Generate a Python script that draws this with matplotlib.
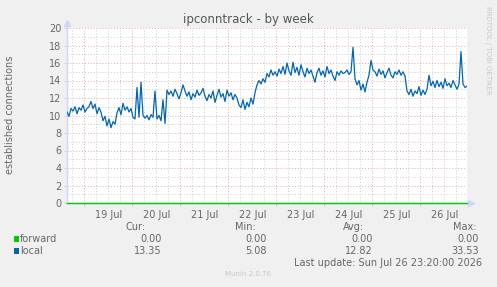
import matplotlib
matplotlib.use("Agg")
import matplotlib.pyplot as plt
import matplotlib.dates as mdates
import numpy as np
import pandas as pd

# ---- data ----
start_time = "2026-07-18 15:20"
end_time = "2026-07-26 23:20"
local_values = [
    10.4, 9.9, 10.8, 10.5, 11.0, 10.2, 10.9, 10.6, 11.2, 10.4, 10.8, 11.0, 11.6,
    10.8, 11.3, 10.2, 10.9, 10.4,
    9.4, 9.9, 8.8, 9.6, 8.6, 9.3, 9.0,
    10.3, 10.9, 10.1, 11.4, 10.6, 11.0, 10.4, 10.8,
    9.8, 9.6, 13.2, 9.8, 13.8, 10.0,
    9.7, 10.0, 9.5, 10.1, 9.8,
    12.8,
    9.6, 10.0, 9.4,
    11.8,
    9.1,
    12.9,
    12.4, 12.8, 12.2, 13.0, 12.5, 11.9, 12.6, 13.5, 12.8, 12.2, 12.7, 11.8, 12.5, 12.1, 12.9, 12.3,
    12.6, 13.1, 12.2, 11.7, 12.4, 12.0, 12.8, 11.5, 12.3, 13.0, 12.1, 12.5, 11.6, 12.9, 12.2, 12.6, 11.8, 12.4, 12.0,
    11.2, 10.9, 11.8, 10.7, 11.5, 11.0, 12.0, 11.3, 12.6, 13.5,
    14.0, 13.6, 14.2, 13.8,
    14.8, 14.4, 15.2, 14.6, 15.0, 14.5, 15.3, 14.8, 15.6, 14.7, 16.0, 15.1, 14.6,
    16.1, 14.9, 15.5, 14.6, 15.8, 15.0, 14.4, 15.4, 14.8, 15.2, 14.5, 13.8, 14.9,
    15.4, 14.6, 15.1, 14.4, 15.6, 14.8, 15.2, 14.5, 14.0, 15.0, 14.6, 15.1, 14.8,
    14.9, 15.2, 14.7, 15.0, 17.8,
    14.2, 13.5, 14.0, 12.9, 13.6, 12.7, 13.8,
    14.6, 16.3, 15.2,
    15.0, 14.5, 15.3, 14.7, 15.1, 14.3, 14.9, 15.4, 14.6, 14.3, 15.0, 14.7,
    15.2, 14.6, 15.0, 14.5, 12.8,
    12.4, 13.0, 12.2, 12.8, 12.5, 13.3, 12.3, 12.9, 12.4, 13.0,
    14.6, 13.4, 13.9, 13.2, 14.0, 13.3, 13.8, 13.1, 14.2, 13.4, 13.7, 13.2, 14.0, 13.5, 13.0, 13.6,
    17.3,
    13.6, 13.2, 13.35,
]
forward_values = [0.0] * len(local_values)
y_ticks = [0, 2, 4, 6, 8, 10, 12, 14, 16, 18, 20]
series_names = ["forward", "local"]
series_colors = ["#00CC00", "#0066B3"]
cur_vals = ["0.00", "13.35"]
min_vals = ["0.00", "5.08"]
avg_vals = ["0.00", "12.82"]
max_vals = ["0.00", "33.53"]

times = pd.date_range(start_time, end_time, periods=len(local_values))

W, H = 497, 287
fig = plt.figure(figsize=(W / 100, H / 100), dpi=100, facecolor="#F0F0F0")
L, R, T, B = 67, 467, 28, 203
ax = fig.add_axes([L / W, 1 - B / H, (R - L) / W, (B - T) / H])
ax.set_facecolor("#FFFFFF")

t0 = pd.Timestamp(start_time)
t1 = pd.Timestamp(end_time)
ax.set_xlim(t0, t1)
ax.set_ylim(0, 20)

# grid
for g in pd.date_range(t0.ceil("6h"), t1, freq="6h"):
    if g.hour == 0:
        ax.axvline(g, color="#E8A8A8", lw=0.7, ls=(0, (1, 2)), zorder=1)
    else:
        ax.axvline(g, color="#CCCCCC", lw=0.7, ls=(0, (1, 2)), zorder=1)
for v in range(1, 21):
    if v % 2 == 0:
        ax.axhline(v, color="#E8A8A8", lw=0.7, ls=(0, (1, 2)), zorder=1)
    else:
        ax.axhline(v, color="#CCCCCC", lw=0.7, ls=(0, (1, 2)), zorder=1)

ax.plot(times, local_values, color=series_colors[1], lw=0.9, zorder=3)
ax.plot(times, forward_values, color=series_colors[0], lw=1.0, zorder=4, clip_on=False)

for s in ["top", "right"]:
    ax.spines[s].set_visible(False)
for s in ["left", "bottom"]:
    ax.spines[s].set_color("#CFD6F8")
    ax.spines[s].set_linewidth(1.0)
# arrows
ax.plot([0], [1.03], marker="^", color="#CFD6F8", markersize=4, transform=ax.transAxes, clip_on=False)
ax.plot([0, 0], [1.0, 1.03], color="#CFD6F8", lw=1, transform=ax.transAxes, clip_on=False)
ax.plot([1.01], [0], marker=">", color="#CFD6F8", markersize=4, transform=ax.transAxes, clip_on=False)
ax.plot([1.0, 1.01], [0, 0], color="#CFD6F8", lw=1, transform=ax.transAxes, clip_on=False)

ax.set_yticks(y_ticks)
ax.set_yticklabels([str(v) for v in y_ticks])
ax.xaxis.set_major_locator(mdates.HourLocator(byhour=[12]))
ax.xaxis.set_major_formatter(mdates.DateFormatter("%d %b"))
ax.xaxis.set_minor_locator(mdates.HourLocator(byhour=[0]))
ax.tick_params(axis="x", which="major", length=0, pad=5, labelsize=7, labelcolor="#666666")
ax.tick_params(axis="x", which="minor", length=2, color="#E8A8A8")
ax.tick_params(axis="y", length=2, color="#CFD6F8", pad=2, labelsize=7, labelcolor="#666666")

# texts
def px(x, y):
    return x / W, 1 - y / H

fc = "#666666"
fig.text(*px(248.5, 19), "ipconntrack - by week", ha="center", va="center", fontsize=8.5, color="#555555")
fig.text(*px(10, 115), "established connections", ha="center", va="center", rotation=90, fontsize=7, color="#666666")
fig.text(*px(488, 50), "RRDTOOL / TOBI OETIKER", ha="center", va="center", rotation=270, fontsize=5, color="#C8C8C8")

fs = 7
hdr_y = 227
for xr, txt in [(146, "Cur:"), (256, "Min:"), (364, "Avg:"), (477, "Max:")]:
    fig.text(*px(xr, hdr_y), txt, ha="right", va="center", fontsize=fs, color=fc)
rows_y = [239, 251]
for i, name in enumerate(series_names):
    y = rows_y[i]
    ax_sq = fig.add_axes([14 / W, 1 - (y + 3) / H, 5 / W, 6 / H])
    ax_sq.set_facecolor(series_colors[i])
    ax_sq.set_xticks([]); ax_sq.set_yticks([])
    for s in ax_sq.spines.values():
        s.set_visible(False)
    fig.text(*px(20, y), name, ha="left", va="center", fontsize=fs, color=fc)
    for xr, vals in [(162, cur_vals), (267, min_vals), (373, avg_vals), (479, max_vals)]:
        fig.text(*px(xr, y), vals[i], ha="right", va="center", fontsize=fs, color=fc)
fig.text(*px(482, 263), "Last update: Sun Jul 26 23:20:00 2026", ha="right", va="center", fontsize=fs, color=fc)
fig.text(*px(248, 274), "Munin 2.0.76", ha="center", va="center", fontsize=5, color="#C8C8C8")

fig.savefig("out.png", dpi=100, facecolor=fig.get_facecolor())
